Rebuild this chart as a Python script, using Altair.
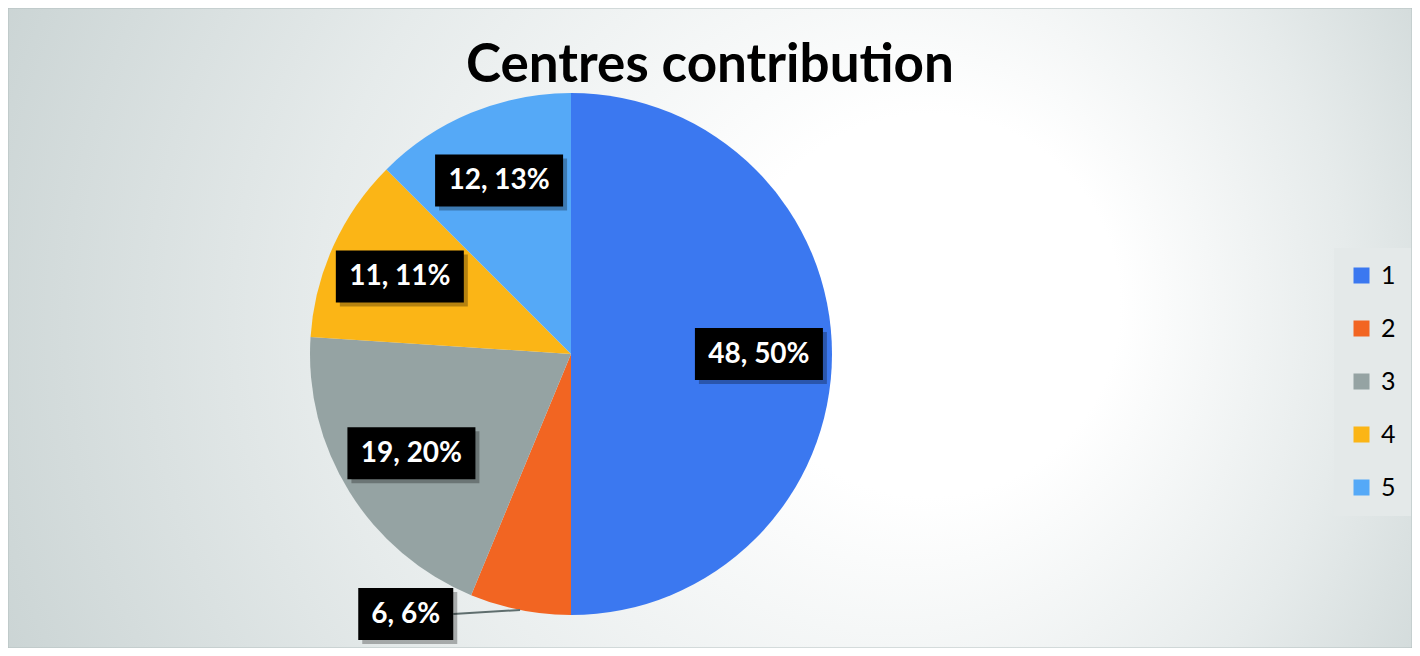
import altair as alt
import pandas as pd

# ---- data ----
categories = ["1", "2", "3", "4", "5"]
values = [48, 6, 19, 11, 12]
percent_labels = ["50%", "6%", "20%", "11%", "13%"]
colors = ["#3B78F0", "#F26522", "#95A3A3", "#FBB516", "#55A9F7"]
title_text = "Centres contribution"

df = pd.DataFrame({"cat": categories, "value": values, "pct": percent_labels})

# ---- layout constants (pixels, view coordinates) ----
W, H = 1404, 640
CX, CY, R = 563, 346, 261

xs = alt.Scale(domain=[-CX / R, (W - CX) / R], nice=False, zero=False)
ys = alt.Scale(domain=[-(H - CY) / R, CY / R], nice=False, zero=False)

base = alt.Chart(df)

# background with radial gradient
bg = alt.Chart(pd.DataFrame({"a": [0]})).mark_rect(
    color=alt.RadialGradient(
        gradient="radial",
        x1=0.69, y1=0.48, r1=0.02,
        x2=0.52, y2=0.5, r2=0.6,
        stops=[
            alt.GradientStop(color="#ffffff", offset=0.0),
            alt.GradientStop(color="#ffffff", offset=0.2),
            alt.GradientStop(color="#e6ebeb", offset=0.6),
            alt.GradientStop(color="#c8d2d2", offset=1.0),
        ],
    ),
    stroke="#b4c0c0",
    strokeWidth=1,
).encode(x=alt.value(0), x2=alt.value(W), y=alt.value(0), y2=alt.value(H))

title = alt.Chart(pd.DataFrame({"t": [title_text]})).mark_text(
    font="Lato", fontSize=53, fontWeight="bold", color="#000000",
    align="center", baseline="alphabetic",
).encode(x=alt.value(W / 2), y=alt.value(74), text="t:N")

pie = base.mark_arc(outerRadius=R, x=CX, y=CY).encode(
    theta=alt.Theta("value:Q", stack=True),
    order=alt.Order("cat:N"),
    color=alt.Color(
        "cat:N",
        scale=alt.Scale(domain=categories, range=colors),
        legend=alt.Legend(
            title=None,
            orient="none",
            legendX=1326,
            legendY=240,
            fillColor="#e4e9e9",
            padding=15,
            symbolType="square",
            symbolSize=256,
            symbolStrokeWidth=0,
            labelFontSize=25,
            labelFont="Lato",
            labelColor="#000000",
            labelOffset=7,
            rowPadding=27,
        ),
    ),
)

labels = base.transform_joinaggregate(total="sum(value)").transform_window(
    cum="sum(value)", sort=[alt.SortField("cat")], frame=[None, 0]
).transform_calculate(
    frac="datum.value / datum.total",
    mid="2 * PI * (datum.cum - datum.value / 2) / datum.total",
).transform_calculate(
    lr="datum.frac < 0.1 ? 1.18 : 0.72",
    la="datum.frac < 0.1 ? datum.mid + 0.37 : datum.mid",
    text="datum.value + ', ' + datum.pct",
).transform_calculate(
    lx="datum.lr * sin(datum.la)",
    ly="datum.lr * cos(datum.la)",
    ex="sin(datum.mid)",
    ey="cos(datum.mid)",
    hw=f"(16.5 * length(datum.text) + 12.5) / 2 / {R}",
    hh=f"26 / {R}",
    sh=f"4 / {R}",
).transform_calculate(
    bx1="datum.lx - datum.hw",
    bx2="datum.lx + datum.hw",
    by1="datum.ly - datum.hh",
    by2="datum.ly + datum.hh",
    sx1="datum.lx - datum.hw + datum.sh",
    sx2="datum.lx + datum.hw + datum.sh",
    sy1="datum.ly - datum.hh - datum.sh",
    sy2="datum.ly + datum.hh - datum.sh",
)

leader = labels.transform_filter("datum.frac < 0.1").mark_rule(
    color="#5f6e6e", strokeWidth=2
).encode(
    x=alt.X("bx2:Q", scale=xs, axis=None),
    y=alt.Y("ly:Q", scale=ys, axis=None),
    x2="ex:Q",
    y2="ey:Q",
)

shadow = labels.mark_rect(color="#000000", opacity=0.28).encode(
    x=alt.X("sx1:Q", scale=xs, axis=None),
    x2="sx2:Q",
    y=alt.Y("sy1:Q", scale=ys, axis=None),
    y2="sy2:Q",
)

boxes = labels.mark_rect(color="#000000").encode(
    x=alt.X("bx1:Q", scale=xs, axis=None),
    x2="bx2:Q",
    y=alt.Y("by1:Q", scale=ys, axis=None),
    y2="by2:Q",
)

texts = labels.mark_text(
    font="Lato", fontWeight="bold", fontSize=28, color="#ffffff",
    align="center", baseline="middle", dy=1,
).encode(
    x=alt.X("lx:Q", scale=xs, axis=None),
    y=alt.Y("ly:Q", scale=ys, axis=None),
    text="text:N",
)

chart = alt.layer(bg, title, pie, leader, shadow, boxes, texts).properties(
    width=W,
    height=H,
    padding=0,
    autosize=alt.AutoSizeParams(type="none"),
).configure_view(strokeWidth=0)

chart.save("out.html", embed_options={"renderer": "svg", "actions": False})
